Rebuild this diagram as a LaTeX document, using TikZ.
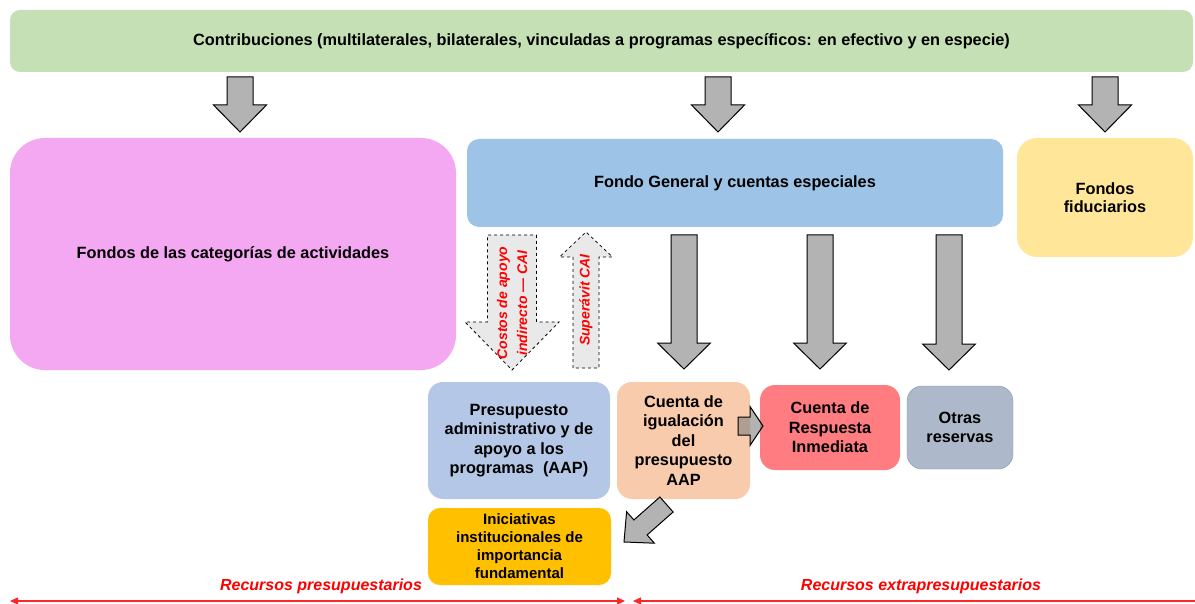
\documentclass[tikz,border=0pt]{standalone}
\usepackage{fontspec}
\setmainfont{Liberation Sans}
\usetikzlibrary{calc,arrows.meta}

\definecolor{contribgreen}{HTML}{C5E0B4}
\definecolor{catpink}{HTML}{F5A8F2}
\definecolor{genblue}{HTML}{9DC3E6}
\definecolor{fiduyellow}{HTML}{FFE699}
\definecolor{aapblue}{HTML}{B4C7E7}
\definecolor{igualpeach}{HTML}{F8CBAD}
\definecolor{crired}{HTML}{FF7C80}
\definecolor{otrasgray}{HTML}{ADB9CA}
\definecolor{otrasline}{HTML}{8497B0}
\definecolor{inicorange}{HTML}{FFC000}
\definecolor{arrowgray}{HTML}{B3B3B3}
\definecolor{dashgray}{HTML}{E9E9E9}

% block arrow: from, to, half shaft, half head, head length
\newcommand{\blockarrow}[6][]{%
  \coordinate (ba-h) at ($(#3)!#6!(#2)$);
  \draw[#1] ($(#2)!#4!90:(#3)$) -- ($(ba-h)!#4!90:(#3)$) -- ($(ba-h)!#5!90:(#3)$) -- (#3)
    -- ($(ba-h)!#5!-90:(#3)$) -- ($(ba-h)!#4!-90:(#3)$) -- ($(#2)!#4!-90:(#3)$) -- cycle;}

\begin{document}
\begin{tikzpicture}[x=1pt, y=-1pt,
    box/.style={rounded corners=15pt, align=center, inner sep=0pt,
      font=\bfseries\fontsize{16.3}{19.5}\selectfont},
    grayarrow/.style={fill=arrowgray, draw=black, line width=1pt, line join=miter},
    dasharrow/.style={fill=dashgray, draw=black, dashed, line width=0.8pt},
    redtext/.style={text=red, font=\bfseries\itshape\fontsize{16}{19}\selectfont},
    redline/.style={draw=red!85, line width=1.2pt}]
  \useasboundingbox (0,0) rectangle (1195,604);

  % boxes
  \node[box, rounded corners=10pt, fill=contribgreen, minimum width=1183pt, minimum height=62pt] (contrib) at (601.5,41)
    {Contribuciones (multilaterales, bilaterales, vinculadas a programas específicos: en efectivo y en especie)};
  \node[box, rounded corners=35pt, fill=catpink, minimum width=446pt, minimum height=232pt] (cat) at (233,254)
    {Fondos de las categorías de actividades};
  \node[box, rounded corners=12pt, fill=genblue, minimum width=536pt, minimum height=88pt] (general) at (735,183)
    {Fondo General y cuentas especiales};
  \node[box, rounded corners=20pt, fill=fiduyellow, minimum width=176pt, minimum height=119pt,
    font=\bfseries\fontsize{16.3}{18.5}\selectfont] (fidu) at (1105,197.5)
    {Fondos\\fiduciarios};
  \node[box, fill=aapblue, minimum width=182pt, minimum height=117pt] (aap) at (519,440.5)
    {Presupuesto\\administrativo y de\\apoyo a los\\programas~~(AAP)};
  \node[box, fill=igualpeach, minimum width=133pt, minimum height=117pt] (igual) at (683.5,440.5)
    {Cuenta de\\igualación\\del\\presupuesto\\AAP};
  \node[box, fill=crired, minimum width=140pt, minimum height=85pt] (cri) at (830,427.5)
    {Cuenta de\\Respuesta\\Inmediata};
  \node[box, fill=otrasgray, draw=otrasline, minimum width=106pt, minimum height=83pt] (otras) at (960,427.5)
    {Otras\\reservas};
  \node[box, rounded corners=12pt, fill=inicorange, draw=inicorange!70!white, densely dashed,
    minimum width=183pt, minimum height=77pt, font=\bfseries\fontsize{15}{18}\selectfont] (inic) at (519.5,546.5)
    {Iniciativas\\institucionales de\\importancia\\fundamental};

  % arrow ends
  \coordinate (t1a) at (240,77);   \coordinate (t1b) at (240,132);
  \coordinate (t2a) at (718,77);   \coordinate (t2b) at (718,132);
  \coordinate (t3a) at (1105,77);  \coordinate (t3b) at (1105,132);
  \coordinate (l1a) at (684,235);  \coordinate (l1b) at (684,369);
  \coordinate (l2a) at (820,235);  \coordinate (l2b) at (820,369);
  \coordinate (l3a) at (949,235);  \coordinate (l3b) at (949,370);
  \coordinate (caia) at (512,235); \coordinate (caib) at (512,370);
  \coordinate (supa) at (586,368); \coordinate (supb) at (586,232);
  \coordinate (sra) at (738,426);  \coordinate (srb) at (763,426);
  \coordinate (dga) at (666.5,504.5); \coordinate (dgb) at (624,542);

  \blockarrow[grayarrow]{t1a}{t1b}{13pt}{26.5pt}{27pt}
  \blockarrow[grayarrow]{t2a}{t2b}{13pt}{26.5pt}{27pt}
  \blockarrow[grayarrow]{t3a}{t3b}{13pt}{26.5pt}{27pt}
  \blockarrow[grayarrow]{l1a}{l1b}{13pt}{26.5pt}{26pt}
  \blockarrow[grayarrow]{l2a}{l2b}{13pt}{26.5pt}{26pt}
  \blockarrow[grayarrow]{l3a}{l3b}{13pt}{26.5pt}{26pt}
  \blockarrow[dasharrow]{caia}{caib}{24.5pt}{47pt}{48pt}
  \blockarrow[dasharrow]{supa}{supb}{13pt}{26.5pt}{25pt}
  \blockarrow[grayarrow, fill=gray, fill opacity=0.6]{sra}{srb}{9pt}{19.5pt}{13pt}
  \blockarrow[grayarrow]{dga}{dgb}{10pt}{21pt}{22pt}

  \node[redtext, rotate=90, align=center, font=\bfseries\itshape\fontsize{14}{20}\selectfont] (caitext) at (512,303)
    {Costos de apoyo\\indirecto — CAI};
  \node[redtext, rotate=90, font=\bfseries\itshape\fontsize{14}{16}\selectfont] (suptext) at (586,300)
    {Superávit CAI};

  % budget lines
  \coordinate (bl) at (10,601);  \coordinate (bm) at (625,601);
  \coordinate (bn) at (633,601); \coordinate (br) at (1195,601);
  \draw[redline, {Triangle[length=8pt,width=7pt]}-{Triangle[length=8pt,width=7pt]}] (bl) -- (bm);
  \draw[redline, {Triangle[length=8pt,width=7pt]}-] (bn) -- (br);
  \node[redtext] (presup) at (321,586) {Recursos presupuestarios};
  \node[redtext] (extra) at (921,586) {Recursos extrapresupuestarios};
\end{tikzpicture}
\end{document}
